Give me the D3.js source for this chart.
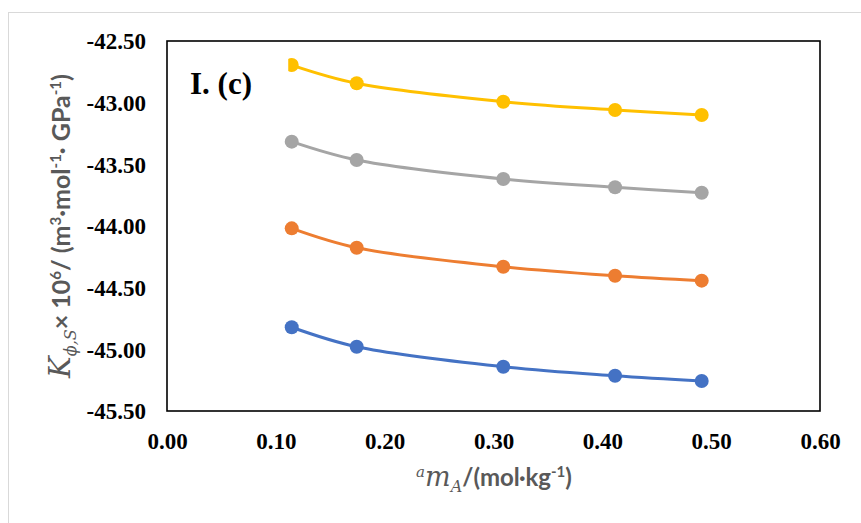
<!DOCTYPE html>
<html>
<head>
<meta charset="utf-8">
<script src="https://cdn.jsdelivr.net/npm/d3@7"></script>
<style>
  html, body { margin: 0; padding: 0; background: #fff; }
  svg { display: block; }
  .tick text { font-family: 'Liberation Serif', 'Times New Roman', serif; font-weight: bold; font-size: 23px; fill: #000; }
</style>
</head>
<body>
<svg id="chart" width="861" height="523"></svg>
<script>
// Molality of A (mol·kg⁻¹)
const molality = [0.1146, 0.1743, 0.309, 0.4117, 0.4913];

// K_phi,S × 10^6 for each curve, bottom to top
const seriesBlue   = [-44.821, -44.979, -45.141, -45.214, -45.257];
const seriesOrange = [-44.019, -44.176, -44.330, -44.403, -44.443];
const seriesGray   = [-43.316, -43.465, -43.619, -43.686, -43.730];
const seriesYellow = [-42.695, -42.843, -42.992, -43.059, -43.100];

const xTicks = [0, 0.1, 0.2, 0.3, 0.4, 0.5, 0.6];
const yTicks = [-42.5, -43.0, -43.5, -44.0, -44.5, -45.0, -45.5];

const series = [
  { values: seriesBlue,   color: "#4472C4" },
  { values: seriesOrange, color: "#ED7D31" },
  { values: seriesGray,   color: "#A5A5A5" },
  { values: seriesYellow, color: "#FFC000", clipLeft: true }
];

const svg = d3.select("#chart");
const plot = { left: 167, top: 41, right: 820, bottom: 411 };

const x = d3.scaleLinear().domain([0, 0.6]).range([plot.left, plot.right]);
const y = d3.scaleLinear().domain([-45.5, -42.5]).range([plot.bottom, plot.top]);

// two decimals with a plain hyphen for negatives
const fmt = d => d3.format(".2f")(d).replace("\u2212", "-");

// outer chart frame
svg.append("rect")
  .attr("x", 8.5).attr("y", 12.5)
  .attr("width", 900).attr("height", 600)
  .attr("fill", "none").attr("stroke", "#d9d9d9").attr("stroke-width", 1);

// plot area box
svg.append("rect")
  .attr("x", plot.left).attr("y", plot.top)
  .attr("width", plot.right - plot.left).attr("height", plot.bottom - plot.top)
  .attr("fill", "none").attr("stroke", "#000").attr("stroke-width", 1.6);

// y axis labels
const yAxis = d3.axisLeft(y).tickValues(yTicks).tickSize(0).tickPadding(21).tickFormat(fmt);
const gy = svg.append("g").attr("transform", `translate(${plot.left},0)`).call(yAxis);
gy.select(".domain").remove();
gy.selectAll("text").attr("dy", "0.34em");

// x axis labels
const xAxis = d3.axisBottom(x).tickValues(xTicks).tickSize(0).tickPadding(22).tickFormat(fmt);
const gx = svg.append("g").attr("transform", `translate(0,${plot.bottom})`).call(xAxis);
gx.select(".domain").remove();

// clip for the top curve's first marker
const defs = svg.append("defs");
defs.append("clipPath").attr("id", "clipTop")
  .append("rect")
  .attr("x", x(molality[0]) - 3.5).attr("y", 0)
  .attr("width", 900).attr("height", 600);

const line = d3.line()
  .x((d, i) => x(molality[i]))
  .y(d => y(d))
  .curve(d3.curveCatmullRom.alpha(0.5));

series.forEach(s => {
  const g = svg.append("g");
  if (s.clipLeft) g.attr("clip-path", "url(#clipTop)");
  g.append("path")
    .attr("d", line(s.values))
    .attr("fill", "none").attr("stroke", s.color).attr("stroke-width", 3);
  g.selectAll("circle").data(s.values).join("circle")
    .attr("cx", (d, i) => x(molality[i]))
    .attr("cy", d => y(d))
    .attr("r", 7)
    .attr("fill", s.color);
});

// panel label
svg.append("text")
  .attr("x", 190).attr("y", 94)
  .attr("font-family", "'Liberation Serif', 'Times New Roman', serif")
  .attr("font-weight", "bold").attr("font-size", 31).attr("fill", "#000")
  .text("I. (c)");

const grey = "#595959";
const sans = "Lato, 'Open Sans', sans-serif";
const mathFont = "'DejaVu Serif', 'Liberation Serif', serif";

// x axis title
const xt = svg.append("text")
  .attr("x", 494).attr("y", 486)
  .attr("text-anchor", "middle")
  .attr("font-family", sans).attr("font-weight", "bold")
  .attr("font-size", 24).attr("fill", grey);
xt.append("tspan").attr("font-family", mathFont).attr("font-style", "italic")
  .attr("font-weight", "normal").attr("font-size", 15).attr("dy", -9).text("a");
xt.append("tspan").attr("font-family", mathFont).attr("font-style", "italic")
  .attr("font-weight", "normal").attr("font-size", 27).attr("dy", 9).text("m");
xt.append("tspan").attr("font-family", mathFont).attr("font-style", "italic")
  .attr("font-weight", "normal").attr("font-size", 16).attr("dy", 6).text("A");
xt.append("tspan").attr("dy", -6).text("/(mol·kg");
xt.append("tspan").attr("font-size", 15).attr("dy", -9).text("-1");
xt.append("tspan").attr("dy", 9).text(")");

// y axis title
const yt = svg.append("text")
  .attr("transform", `translate(70,226) rotate(-90)`)
  .attr("text-anchor", "middle")
  .attr("font-family", sans).attr("font-weight", "bold")
  .attr("font-size", 25).attr("fill", grey);
yt.append("tspan").attr("font-family", mathFont).attr("font-style", "italic")
  .attr("font-weight", "normal").attr("font-size", 29).text("K");
yt.append("tspan").attr("font-family", mathFont).attr("font-style", "italic")
  .attr("font-weight", "normal").attr("font-size", 16).attr("dy", 6).text("ϕ,S");
yt.append("tspan").attr("dy", -6).text("× 10");
yt.append("tspan").attr("font-size", 15).attr("dy", -9).text("6");
yt.append("tspan").attr("dy", 9).text("/ (m");
yt.append("tspan").attr("font-size", 15).attr("dy", -9).text("3");
yt.append("tspan").attr("dy", 9).text("·mol");
yt.append("tspan").attr("font-size", 15).attr("dy", -9).text("-1");
yt.append("tspan").attr("dy", 9).text("· GPa");
yt.append("tspan").attr("font-size", 15).attr("dy", -9).text("-1");
yt.append("tspan").attr("dy", 9).text(")");
</script>
</body>
</html>
